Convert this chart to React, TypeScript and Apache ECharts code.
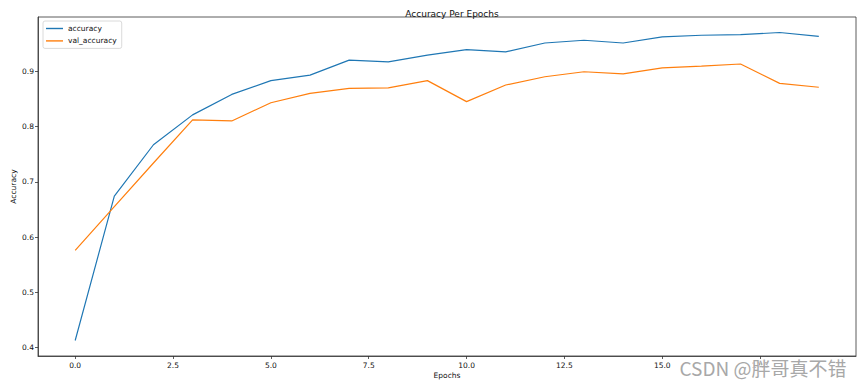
import React, { useEffect, useRef } from "react";
import * as echarts from "echarts";

const epochs = [0, 1, 2, 3, 4, 5, 6, 7, 8, 9, 10, 11, 12, 13, 14, 15, 16, 17, 18, 19];
const accuracy = [0.413, 0.674, 0.767, 0.821, 0.858, 0.883, 0.893, 0.92, 0.917, 0.929, 0.939, 0.935, 0.951, 0.956, 0.951, 0.962, 0.965, 0.966, 0.97, 0.963];
const valAccuracy = [0.576, 0.655, 0.734, 0.812, 0.81, 0.843, 0.86, 0.869, 0.87, 0.883, 0.845, 0.875, 0.89, 0.899, 0.895, 0.906, 0.909, 0.913, 0.878, 0.871];
const xTicks = [0, 2.5, 5, 7.5, 10, 12.5, 15, 17.5];
const yTicks = [0.4, 0.5, 0.6, 0.7, 0.8, 0.9];

const FONT = "DejaVu Sans";

export default function App() {
  const ref = useRef<HTMLDivElement>(null);
  useEffect(() => {
    if (!ref.current) return;
    const chart = echarts.init(ref.current, null, { renderer: "svg" });
    const axisCommon = {
      axisLine: { show: true, onZero: false, lineStyle: { color: "#333", width: 0.8 } },
      axisTick: { show: true, inside: false, length: 3, lineStyle: { color: "#333", width: 0.8 } },
      splitLine: { show: false },
    };
    chart.setOption({
      animation: false,
      backgroundColor: "#fff",
      title: {
        text: "Accuracy Per Epochs",
        left: 447,
        textAlign: "center",
        top: 4,
        textStyle: { fontFamily: FONT, fontSize: 9, fontWeight: "normal", color: "#111" },
      },
      legend: {
        orient: "vertical",
        left: 43,
        top: 21,
        padding: [3, 5, 3, 3],
        itemWidth: 17,
        itemHeight: 1.4,
        itemGap: 3.4,
        icon: "rect",
        borderColor: "#d0d0d0",
        borderWidth: 0.8,
        borderRadius: 2,
        backgroundColor: "rgba(255,255,255,0.8)",
        textStyle: { fontFamily: FONT, fontSize: 7.5, color: "#111", lineHeight: 9 },
        data: ["accuracy", "val_accuracy"],
      },
      grid: {
        left: 38,
        right: 9,
        top: 17,
        bottom: 32,
        show: true,
        borderColor: "#333",
        borderWidth: 0.8,
        containLabel: false,
        outerBoundsMode: "none",
      },
      xAxis: {
        type: "value",
        min: -0.95,
        max: 19.95,
        name: "Epochs",
        nameLocation: "middle",
        nameGap: 15,
        nameMoveOverlap: false,
        nameTextStyle: { fontFamily: FONT, fontSize: 7.5, color: "#111" },
        ...axisCommon,
        axisTick: { ...axisCommon.axisTick, customValues: xTicks },
        axisLabel: {
          customValues: xTicks,
          margin: 5,
          fontFamily: FONT,
          fontSize: 7.5,
          color: "#111",
          formatter: (v: number) => v.toFixed(1),
        },
      },
      yAxis: {
        type: "value",
        min: 0.385,
        max: 0.998,
        name: "Accuracy",
        nameLocation: "middle",
        nameGap: 21,
        nameMoveOverlap: false,
        nameTextStyle: { fontFamily: FONT, fontSize: 7.5, color: "#111" },
        ...axisCommon,
        axisTick: { ...axisCommon.axisTick, customValues: yTicks },
        axisLabel: {
          customValues: yTicks,
          margin: 4,
          fontFamily: FONT,
          fontSize: 7.5,
          color: "#111",
          formatter: (v: number) => v.toFixed(1),
        },
      },
      series: [
        {
          name: "accuracy",
          type: "line",
          symbol: "none",
          data: epochs.map((e, i) => [e, accuracy[i]]),
          lineStyle: { color: "#1f77b4", width: 1.2 },
          itemStyle: { color: "#1f77b4" },
        },
        {
          name: "val_accuracy",
          type: "line",
          symbol: "none",
          data: epochs.map((e, i) => [e, valAccuracy[i]]),
          lineStyle: { color: "#ff7f0e", width: 1.2 },
          itemStyle: { color: "#ff7f0e" },
        },
      ],
      graphic: [
        {
          type: "text",
          left: 679,
          top: 357,
          z: 100,
          style: {
            text: "CSDN @胖哥真不错",
            font: '19px "Noto Sans CJK SC"',
            fill: "#a8a8a8",
            stroke: "rgba(255,255,255,0.9)",
            lineWidth: 1,
          },
        },
      ],
    });
    return () => chart.dispose();
  }, []);
  return (
    <div
      ref={ref}
      style={{ position: "fixed", left: 0, top: 0, width: 865, height: 388 }}
    />
  );
}
